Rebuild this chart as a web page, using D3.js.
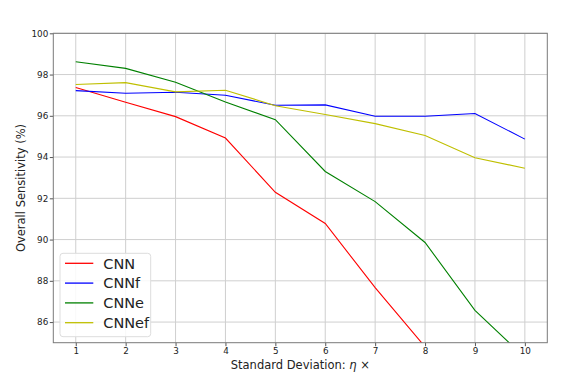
<!DOCTYPE html>
<html>
<head>
<meta charset="utf-8">
<script src="https://cdn.jsdelivr.net/npm/d3@7"></script>
<style>
    body { margin: 0; background: #fff; }
    text { font-family: "DejaVu Sans", sans-serif; fill: #222; }
</style>
</head>
<body>
<div id="container"></div>
<script>
// data
var etaValues = [1, 2, 3, 4, 5, 6, 7, 8, 9, 10];
var cnn   = [97.37, 96.66, 95.96, 94.92, 92.29, 90.78, 87.67, 84.80, 82.0, 79.5];
var cnnf  = [97.22, 97.09, 97.14, 97.00, 96.51, 96.53, 95.98, 95.98, 96.11, 94.87];
var cnne  = [98.62, 98.30, 97.63, 96.67, 95.81, 93.30, 91.84, 89.86, 86.57, 84.28];
var cnnef = [97.52, 97.61, 97.16, 97.24, 96.49, 96.06, 95.62, 95.05, 93.97, 93.46];
var seriesNames = ["CNN", "CNNf", "CNNe", "CNNef"];
var seriesColors = ["#ff0000", "#0000ff", "#008000", "#bfbf00"];
var yTicks = [86, 88, 90, 92, 94, 96, 98, 100];

(function () {
    var width = 581;
    var height = 388;
    var margin = { left: 53.3, right: 33.7, top: 33.3, bottom: 45.3 };
    var w = width - margin.left - margin.right;
    var h = height - margin.top - margin.bottom;

    var series = [cnn, cnnf, cnne, cnnef].map(function (vals, i) {
        return { name: seriesNames[i], color: seriesColors[i],
                 values: vals.map(function (v, j) { return { x: etaValues[j], y: v }; }) };
    });

    var svg = d3.select('#container')
        .append("svg")
        .attr("width", width)
        .attr("height", height)
        .append("g")
        .attr("transform", "translate(" + margin.left + "," + margin.top + ")");

    var x = d3.scaleLinear().domain([0.55, 10.45]).range([0, w]);
    var y = d3.scaleLinear().domain([85, 100]).range([h, 0]);

    // grid
    svg.append("g")
        .selectAll("line.vg")
        .data(etaValues)
        .enter()
        .append("line")
        .attr("x1", d => x(d)).attr("x2", d => x(d))
        .attr("y1", 0).attr("y2", h)
        .style("stroke", "#cfcfcf").style("stroke-width", 1);
    svg.append("g")
        .selectAll("line.hg")
        .data(yTicks)
        .enter()
        .append("line")
        .attr("x1", 0).attr("x2", w)
        .attr("y1", d => y(d)).attr("y2", d => y(d))
        .style("stroke", "#cfcfcf").style("stroke-width", 1);

    // clip the lines to the axes box
    svg.append("clipPath").attr("id", "clip")
        .append("rect").attr("width", w).attr("height", h);

    var line = d3.line()
        .x(d => x(d.x))
        .y(d => y(d.y));

    svg.append("g")
        .attr("clip-path", "url(#clip)")
        .selectAll("path")
        .data(series)
        .enter()
        .append("path")
        .attr("d", d => line(d.values))
        .style("fill", "none")
        .style("stroke", d => d.color)
        .style("stroke-width", 1.1);

    // axes
    var xAxis = svg.append("g")
        .attr("transform", "translate(0," + h + ")")
        .call(d3.axisBottom(x).tickValues(etaValues).tickSize(3.5).tickPadding(2).tickFormat(d3.format("d")));
    var yAxis = svg.append("g")
        .call(d3.axisLeft(y).tickValues(yTicks).tickSize(3.5).tickPadding(1.5).tickFormat(d3.format("d")));
    [xAxis, yAxis].forEach(a => {
        a.select(".domain").remove();
        a.selectAll("line").style("stroke", "#555");
        a.selectAll("text").style("font-size", "8.8px").style("fill", "#222").attr("font-family", null);
    });

    // frame
    svg.append("rect")
        .attr("width", w).attr("height", h)
        .style("fill", "none").style("stroke", "#7a7a7a").style("stroke-width", 1);

    // axis labels
    var xl = svg.append("text")
        .attr("x", w / 2).attr("y", h + 26.6)
        .attr("text-anchor", "middle")
        .style("font-size", "11.5px");
    xl.append("tspan").text("Standard Deviation: ");
    xl.append("tspan").style("font-style", "italic").text("\u03b7");
    xl.append("tspan").text(" \u00d7");

    svg.append("text")
        .attr("transform", "translate(" + (24.5 - margin.left) + "," + (h / 2) + ") rotate(-90)")
        .attr("text-anchor", "middle")
        .style("font-size", "11.5px")
        .text("Overall Sensitivity (%)");

    // legend
    var legend = svg.append("g")
        .attr("transform", "translate(" + (60 - margin.left) + "," + (253.3 - margin.top) + ")");
    legend.append("rect")
        .attr("width", 90.7).attr("height", 83.4)
        .attr("rx", 3).attr("ry", 3)
        .style("fill", "#fff").style("fill-opacity", 0.85)
        .style("stroke", "#dddddd").style("stroke-width", 1);
    var item = legend.selectAll("g.item")
        .data(series)
        .enter()
        .append("g")
        .attr("transform", (d, i) => "translate(0," + (10 + i * 19.8) + ")");
    item.append("line")
        .attr("x1", 5).attr("x2", 33.3)
        .style("stroke", d => d.color).style("stroke-width", 1.3);
    item.append("text")
        .attr("x", 43.3).attr("dy", "0.36em")
        .style("font-size", "14.5px")
        .text(d => d.name);
})();
</script>
</body>
</html>
